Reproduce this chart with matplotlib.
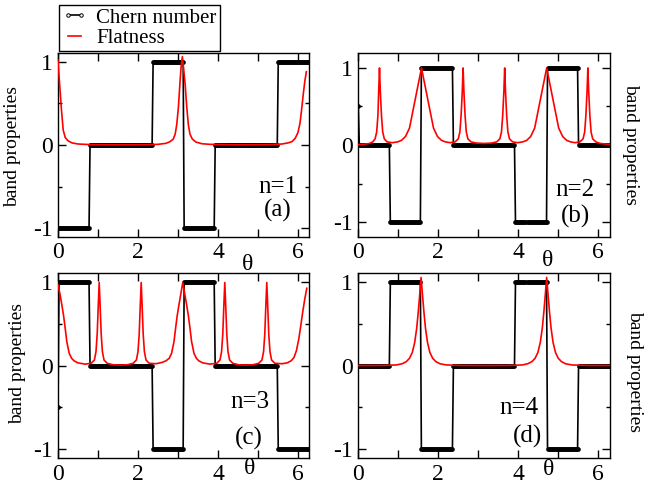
import numpy as np
import matplotlib
matplotlib.use("Agg")
import matplotlib.pyplot as plt
from matplotlib.ticker import MultipleLocator
from matplotlib.lines import Line2D

plt.rcParams['font.family'] = ['Liberation Serif', 'DejaVu Serif']
plt.rcParams['axes.unicode_minus'] = False

# ---------------- data ----------------
PI = np.pi
# Chern number: constant on each octant of [0, 2pi]
chern_bounds = [0, PI/4, PI/2, 3*PI/4, PI, 5*PI/4, 3*PI/2, 7*PI/4, 2*PI]
chern_a = [-1, 0, 0, 1, -1, 0, 0, 1]
chern_b = [0, -1, 1, 0, 0, -1, 1, 0]
chern_c = [1, 0, 0, -1, 1, 0, 0, -1]
chern_d = [0, 1, -1, 0, 0, 1, -1, 0]
chern_first = {'a': -1, 'b': 0.5, 'c': -0.5, 'd': 0}
n_theta = 252

# Flatness curves (theta, value)
theta_fa = [0.00, 0.03, 0.06, 0.09, 0.13, 0.18, 0.25, 0.35, 0.50, 0.80, 1.5, 2.2, 2.5,
            2.70, 2.80, 2.88, 2.93, 2.97, 3.01, 3.05, 3.08, 3.11, 3.14, 3.18, 3.22, 3.26,
            3.30, 3.36, 3.45, 3.60, 3.80, 4.5, 5.3, 5.6, 5.75, 5.85, 5.93, 6.00, 6.05,
            6.09, 6.13, 6.17, 6.21]
flat_a = [1.02, 0.80, 0.60, 0.40, 0.18, 0.09, 0.05, 0.025, 0.012, 0.005, 0.002, 0.004, 0.008,
          0.02, 0.04, 0.07, 0.13, 0.25, 0.45, 0.75, 0.95, 1.06, 0.92, 0.72, 0.45, 0.24,
          0.13, 0.07, 0.035, 0.015, 0.008, 0.002, 0.005, 0.012, 0.025, 0.04, 0.08, 0.15, 0.26,
          0.42, 0.60, 0.76, 0.88]

theta_fb = [0.00, 0.15, 0.28, 0.36, 0.42, 0.46, 0.49, 0.51, 0.53, 0.55, 0.58, 0.61, 0.65,
            0.72, 0.85, 0.98, 1.08, 1.18, 1.28, 1.38, 1.48, 1.58, 1.68, 1.78, 1.88, 1.98,
            2.08, 2.18, 2.30, 2.42, 2.50, 2.54, 2.57, 2.60, 2.62, 2.64, 2.67, 2.70, 2.74,
            2.82, 2.95, 3.14, 3.33, 3.46, 3.54, 3.58, 3.61, 3.64, 3.66, 3.68, 3.71, 3.74,
            3.78, 3.86, 3.98, 4.11, 4.21, 4.31, 4.41, 4.51, 4.61, 4.71, 4.81, 4.91, 5.01,
            5.11, 5.21, 5.31, 5.42, 5.54, 5.62, 5.66, 5.69, 5.72, 5.74, 5.76, 5.79, 5.82,
            5.86, 5.94, 6.05, 6.28]
flat_b = [0.005, 0.01, 0.02, 0.04, 0.08, 0.17, 0.38, 0.70, 1.00, 0.70, 0.38, 0.17, 0.08,
          0.04, 0.03, 0.04, 0.06, 0.11, 0.22, 0.48, 0.74, 1.00, 0.74, 0.48, 0.22, 0.11,
          0.06, 0.04, 0.03, 0.04, 0.08, 0.17, 0.38, 0.70, 1.00, 0.70, 0.38, 0.17, 0.08,
          0.04, 0.025, 0.02, 0.025, 0.04, 0.08, 0.17, 0.38, 0.70, 1.00, 0.70, 0.38, 0.17,
          0.08, 0.04, 0.03, 0.04, 0.06, 0.11, 0.22, 0.48, 0.74, 1.00, 0.74, 0.48, 0.22,
          0.11, 0.06, 0.04, 0.03, 0.04, 0.08, 0.17, 0.38, 0.70, 1.00, 0.70, 0.38, 0.17,
          0.08, 0.04, 0.02, 0.008]

theta_fc = [0.00, 0.05, 0.10, 0.14, 0.18, 0.22, 0.28, 0.34, 0.40, 0.50, 0.68, 0.83, 0.91,
            0.95, 0.98, 1.005, 1.03, 1.055, 1.08, 1.11, 1.15, 1.23, 1.38, 1.56, 1.73, 1.88,
            1.96, 2.00, 2.03, 2.055, 2.08, 2.105, 2.13, 2.16, 2.20, 2.28, 2.45, 2.60, 2.70,
            2.78, 2.84, 2.90, 2.94, 2.98, 3.02, 3.07, 3.12, 3.17, 3.22, 3.26, 3.30, 3.34,
            3.40, 3.46, 3.52, 3.62, 3.80, 3.97, 4.05, 4.09, 4.12, 4.145, 4.17, 4.195, 4.22,
            4.25, 4.29, 4.37, 4.52, 4.70, 4.87, 5.02, 5.10, 5.14, 5.17, 5.195, 5.22, 5.245,
            5.27, 5.30, 5.34, 5.42, 5.60, 5.73, 5.83, 5.90, 5.96, 6.02, 6.07, 6.12, 6.17, 6.22]
flat_c = [0.97, 0.86, 0.72, 0.60, 0.45, 0.29, 0.15, 0.09, 0.06, 0.035, 0.02, 0.03, 0.07,
          0.17, 0.38, 0.70, 1.00, 0.70, 0.38, 0.17, 0.07, 0.03, 0.012, 0.008, 0.012, 0.03,
          0.07, 0.17, 0.38, 0.70, 1.00, 0.70, 0.38, 0.17, 0.07, 0.03, 0.025, 0.04, 0.06,
          0.09, 0.15, 0.29, 0.45, 0.60, 0.72, 0.86, 1.00, 0.86, 0.72, 0.60, 0.45, 0.29,
          0.15, 0.09, 0.06, 0.035, 0.02, 0.03, 0.07, 0.17, 0.38, 0.70, 1.00, 0.70, 0.38,
          0.17, 0.07, 0.03, 0.012, 0.008, 0.012, 0.03, 0.07, 0.17, 0.38, 0.70, 1.00, 0.70,
          0.38, 0.17, 0.07, 0.03, 0.025, 0.035, 0.06, 0.10, 0.18, 0.32, 0.48, 0.65, 0.80, 0.93]

theta_fd = [0.00, 0.60, 0.95, 1.10, 1.20, 1.28, 1.35, 1.41, 1.46, 1.50, 1.54, 1.57, 1.60,
            1.64, 1.68, 1.73, 1.79, 1.86, 1.94, 2.04, 2.20, 2.60, 3.14, 3.70, 4.10, 4.24,
            4.34, 4.42, 4.49, 4.55, 4.60, 4.64, 4.68, 4.71, 4.74, 4.78, 4.82, 4.87, 4.93,
            5.00, 5.08, 5.18, 5.34, 5.80, 6.28]
flat_d = [0.003, 0.004, 0.01, 0.025, 0.05, 0.09, 0.16, 0.28, 0.45, 0.65, 0.88, 1.06, 0.88,
          0.65, 0.45, 0.28, 0.16, 0.09, 0.05, 0.025, 0.01, 0.004, 0.003, 0.004, 0.01, 0.025,
          0.05, 0.09, 0.16, 0.28, 0.45, 0.65, 0.88, 1.06, 0.88, 0.65, 0.45, 0.28, 0.16,
          0.09, 0.05, 0.025, 0.01, 0.004, 0.003]

x_ticks = [0, 2, 4, 6]
y_ticks = [-1, 0, 1]

# ---------------- figure ----------------
W, H = 662, 484
fig = plt.figure(figsize=(W / 100, H / 100), dpi=100)

def rect(l, t, w, h):
    return [l / W, 1 - (t + h) / H, w / W, h / H]

panels = [
    dict(key='a', rect=rect(58, 53.3, 251.3, 183.4), lev=chern_a, th=theta_fa, fl=flat_a,
         ylim=1.1, n='n=1', lab='(a)', npos=(5.98, -0.50), lpos=(5.5, -0.78),
         ylab='left', ylc=(-0.147, 0.49), tpos=(4.75, -0.152)),
    dict(key='b', rect=rect(358.3, 53.3, 251.3, 183.4), lev=chern_b, th=theta_fb, fl=flat_b,
         ylim=1.19, n='n=2', lab='(b)', npos=(5.9, -0.58), lpos=(5.42, -0.93),
         ylab='right', ylc=(1.083, 0.5), tpos=(4.72, -0.13)),
    dict(key='c', rect=rect(58, 273.3, 251.3, 185), lev=chern_c, th=theta_fc, fl=flat_c,
         ylim=1.11, n='n=3', lab='(c)', npos=(5.3, -0.43), lpos=(4.76, -0.87),
         ylab='left', ylc=(-0.129, 0.51), tpos=(4.8, -0.054)),
    dict(key='d', rect=rect(358.3, 273.3, 251.3, 185), lev=chern_d, th=theta_fd, fl=flat_d,
         ylim=1.11, n='n=4', lab='(d)', npos=(4.5, -0.51), lpos=(4.23, -0.85),
         ylab='right', ylc=(1.099, 0.47), tpos=(4.75, -0.058)),
]

theta_grid = np.linspace(0, 2 * PI, n_theta)
for p in panels:
    ax = fig.add_axes(p['rect'])
    idx = np.clip(np.searchsorted(chern_bounds, theta_grid, side='right') - 1, 0, 7)
    chern = np.asarray(p['lev'], dtype=float)[idx]
    chern[0] = chern_first[p['key']]
    ax.plot(theta_grid, chern, color='black', lw=1.2, marker='o', ms=3.0,
            mfc='black', mec='black', mew=0.3, zorder=2)
    ax.plot(p['th'], p['fl'], color='red', lw=1.2, zorder=3)

    ax.set_xlim(0, 2 * PI)
    ax.set_ylim(-p['ylim'], p['ylim'])
    ax.set_xticks(x_ticks)
    ax.set_yticks(y_ticks)
    ax.set_yticklabels([str(v) for v in y_ticks])
    ax.xaxis.set_minor_locator(MultipleLocator(1))
    ax.yaxis.set_minor_locator(MultipleLocator(0.5))
    ax.tick_params(which='both', direction='in', top=True, right=True, width=1.0,
                   labelsize=17, pad=4)
    ax.tick_params(which='major', length=5.5)
    ax.tick_params(axis='x', which='minor', length=5.5)
    ax.tick_params(axis='y', which='minor', length=3)
    for s in ax.spines.values():
        s.set_linewidth(1.0)

    if p['ylab'] == 'left':
        ax.set_ylabel('band properties', fontsize=14)
    else:
        ax.yaxis.set_label_position('right')
        ax.set_ylabel('band properties', fontsize=14, rotation=-90, va='center')
    ax.yaxis.set_label_coords(*p['ylc'])

    ax.text(p['npos'][0], p['npos'][1], p['n'], fontsize=18, ha='right', va='center')
    ax.text(p['lpos'][0], p['lpos'][1], p['lab'], fontsize=18, ha='center', va='center')
    ax.text(p['tpos'][0], p['tpos'][1], 'θ', fontsize=17, ha='center', va='center',
            transform=ax.get_xaxis_transform())

handles = [
    Line2D([], [], color='black', lw=1.2, marker='o', ms=2.5, mfc='white', mec='black', mew=0.7),
    Line2D([], [], color='red', lw=1.2),
]
leg = fig.legend(handles, ['Chern number', 'Flatness'], loc='upper left',
                 bbox_to_anchor=(59 / W, 1 - 5 / H), fontsize=15, numpoints=2,
                 frameon=True, fancybox=False, framealpha=1, edgecolor='black',
                 borderpad=0.15, labelspacing=0.05, handlelength=1.2, handletextpad=0.45,
                 borderaxespad=0)
leg.get_frame().set_linewidth(1.0)

fig.savefig('out.png', dpi=100)
